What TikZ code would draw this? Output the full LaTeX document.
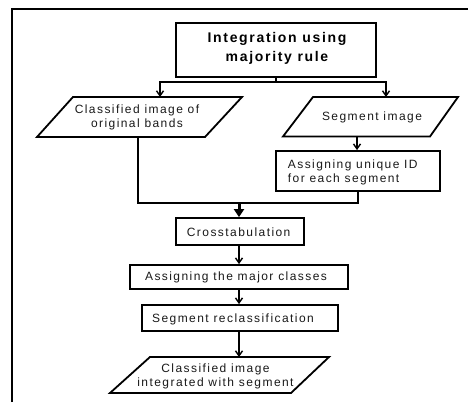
\documentclass[tikz,border=0pt]{standalone}
\usepackage{fontspec}
\setmainfont{Liberation Sans}
\newfontfamily\lab[LetterSpace=12]{Liberation Sans}
\newfontfamily\labb[LetterSpace=12]{Liberation Sans Bold}
\usetikzlibrary{arrows.meta}
\begin{document}
\begin{tikzpicture}[x=1pt,y=-1pt,
  line width=1.8pt,
  box/.style={draw,rectangle,inner sep=0pt},
  txt/.style={inner sep=0pt,font=\lab\fontsize{12}{14}\selectfont,text=black!90},
  arr/.style={-{Straight Barb[length=5pt,width=7pt,line width=1.4pt]}},
  bigarr/.style={line width=3pt,-{Triangle[length=8pt,width=10pt]}}]
\useasboundingbox (0,0) rectangle (468,402);
% frame
\draw (12,402) -- (12,9) -- (468,9);
% title
\node[box,minimum width=200pt,minimum height=54pt] (title) at (276,50.3) {};
\node[inner sep=0pt,align=center,font=\labb\fontsize{14}{19}\selectfont] (titleT) at (277,48) {Integration using\\majority rule};
% left input parallelogram
\draw (73,97) -- (242,97) -- (205,137) -- (37,137) -- cycle;
\coordinate (clsIn) at (160,97);
\coordinate (clsOut) at (138,137);
\node[txt,align=center] (clsT) at (137,117) {Classified image of\\original bands};
% right input parallelogram
\draw (313,97) -- (458,97) -- (430,136.5) -- (283,136.5) -- cycle;
\coordinate (segIn) at (386,97);
\coordinate (segOut) at (357,136.5);
\node[txt] (segT) at (372,117) {Segment image};
% ID box
\node[box,minimum width=164pt,minimum height=40pt] (id) at (358,171) {};
\node[txt,align=left,anchor=west] (idT) at (287,172) {Assigning unique ID\\for each segment};
% crosstab
\node[box,minimum width=128pt,minimum height=27pt] (ct) at (240,231.5) {};
\node[txt,anchor=west] (ctT) at (186,232.5) {Crosstabulation};
% major
\node[box,minimum width=218pt,minimum height=24pt] (maj) at (239,277) {};
\node[txt] (majT) at (236,277.5) {Assigning the major classes};
% reclass
\node[box,minimum width=196pt,minimum height=26pt] (rec) at (240,318) {};
\node[txt] (recT) at (233,319) {Segment reclassification};
% output parallelogram
\draw (150,357) -- (329,357) -- (291,393) -- (110,393) -- cycle;
\coordinate (outIn) at (239,357);
\node[txt,align=center] (outT) at (215.5,376) {Classified image\\integrated with segment};
% connectors
\coordinate (split) at (276,82);
\coordinate (spine) at (239,0);
\draw (title.south) -- (split);
\draw[arr] (split) -| (clsIn);
\draw[arr] (split) -| (segIn);
\draw[arr] (segOut) -- (segOut |- id.north);
\coordinate (join) at (239,203);
\draw (clsOut) |- (join);
\draw (id.south) |- (join);
\draw[bigarr] (join) -- (join |- ct.north);
\draw[arr] (spine |- ct.south) -- (spine |- maj.north);
\draw[arr] (spine |- maj.south) -- (spine |- rec.north);
\draw[arr] (spine |- rec.south) -- (outIn);
\end{tikzpicture}
\end{document}
